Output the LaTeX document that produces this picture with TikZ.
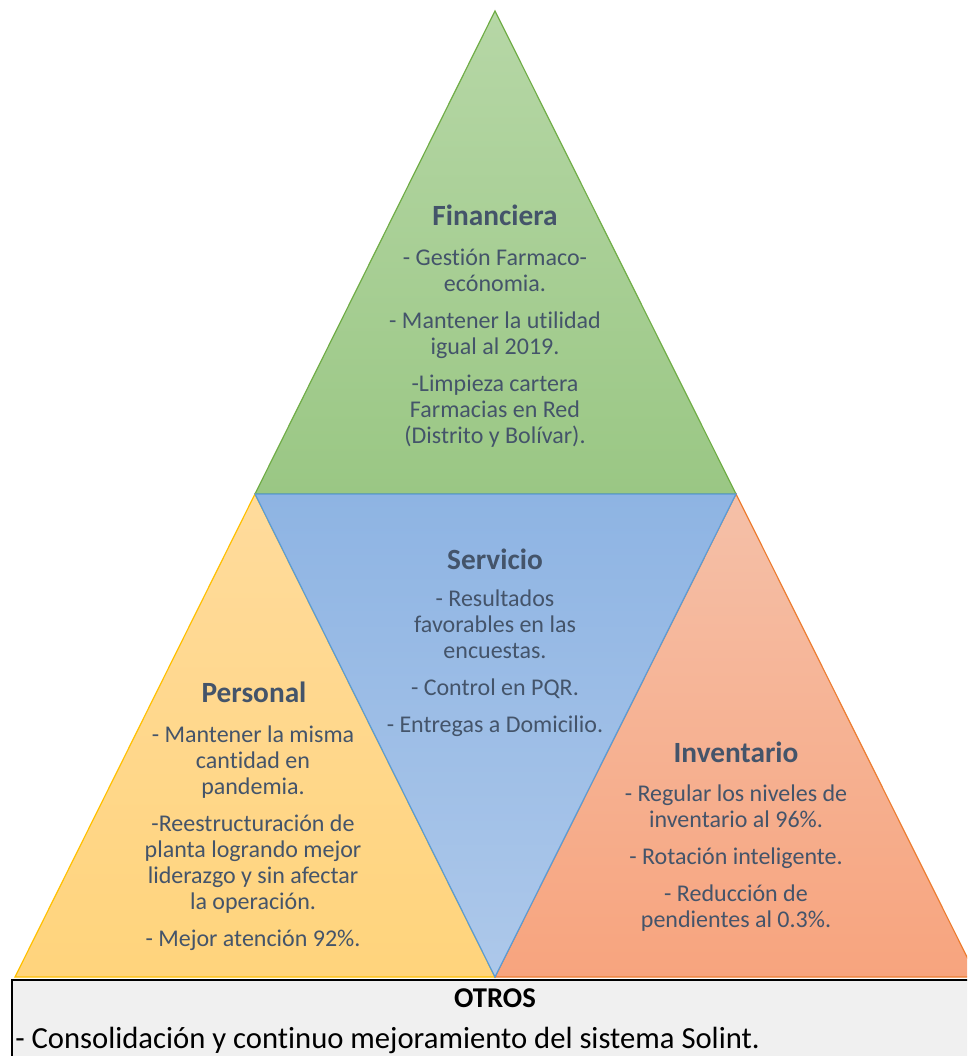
\documentclass[tikz,border=0pt]{standalone}
\usepackage{fontspec}
\setmainfont{Carlito}[Ligatures=NoCommon]
\definecolor{txt}{HTML}{44546A}
\definecolor{gtop}{HTML}{B6D7A6}
\definecolor{gbot}{HTML}{9AC784}
\definecolor{gline}{HTML}{70AD47}
\definecolor{btop}{HTML}{8EB4E3}
\definecolor{bbot}{HTML}{ADC8EA}
\definecolor{bline}{HTML}{5B9BD5}
\definecolor{ytop}{HTML}{FFDB9C}
\definecolor{ybot}{HTML}{FFD47C}
\definecolor{yline}{HTML}{FFC000}
\definecolor{otop}{HTML}{F5C0A8}
\definecolor{obot}{HTML}{F7A47E}
\definecolor{oline}{HTML}{ED7D31}
\definecolor{boxfill}{HTML}{F0F0F0}
\begin{document}
\begin{tikzpicture}[x=0.75pt,y=-0.75pt,
  tri/.style={line width=0.9pt,line join=miter},
  ttl/.style={text=txt,font=\fontsize{22}{26}\selectfont\bfseries,inner sep=0pt},
  body/.style={text=txt,font=\fontsize{18}{19.5}\selectfont,align=center,inner sep=0pt}]
\useasboundingbox (0,0) rectangle (967,1056);
\clip (0,0) rectangle (967,1056);
% triangles
\coordinate (apex) at (495,11);
\coordinate (ml) at (255,494);
\coordinate (mr) at (736,494);
\coordinate (bl) at (15,977);
\coordinate (bc) at (495,977);
\coordinate (br) at (977,977);
\draw[tri,draw=gline,top color=gtop,bottom color=gbot] (apex) -- (ml) -- (mr) -- cycle;
\draw[tri,draw=yline,top color=ytop,bottom color=ybot] (ml) -- (bl) -- (bc) -- cycle;
\draw[tri,draw=oline,top color=otop,bottom color=obot] (mr) -- (bc) -- (br) -- cycle;
\draw[tri,draw=bline,top color=btop,bottom color=bbot] (ml) -- (mr) -- (bc) -- cycle;
% bottom box
\draw[line width=2pt,fill=boxfill] (12,980) rectangle (1000,1100);
% texts
\node[ttl] (fin) at (495,215) {Financiera};
\node[body] (finb) at (495,348) {- Gestión Farmaco-\\ecónomia.\\[8.25pt]- Mantener la utilidad\\igual al 2019.\\[8.25pt]-Limpieza cartera\\Farmacias en Red\\(Distrito y Bolívar).};
\node[ttl] (ser) at (495,559) {Servicio};
\node[body] (serb) at (495,663.5) {- Resultados\\favorables en las\\encuestas.\\[8.25pt]- Control en PQR.\\[8.25pt]- Entregas a Domicilio.};
\node[ttl] (per) at (254,692) {Personal};
\node[body] (perb) at (253,838.5) {- Mantener la misma\\cantidad en\\pandemia.\\[8.25pt]-Reestructuración de\\planta logrando mejor\\liderazgo y sin afectar\\la operación.\\[8.25pt]- Mejor atención 92\%.};
\node[ttl] (inv) at (736,752) {Inventario};
\node[body] (invb) at (736,858) {- Regular los niveles de\\inventario al 96\%.\\[8.25pt]- Rotación inteligente.\\[8.25pt]- Reducción de\\pendientes al 0.3\%.};
\node[font=\fontsize{21.5}{24}\selectfont\bfseries,inner sep=0pt] (otros) at (495,998) {OTROS};
\node[font=\fontsize{23}{26}\selectfont,inner sep=0pt,anchor=west] (cons) at (15,1040) {- Consolidación y continuo mejoramiento del sistema Solint.};
\end{tikzpicture}
\end{document}
